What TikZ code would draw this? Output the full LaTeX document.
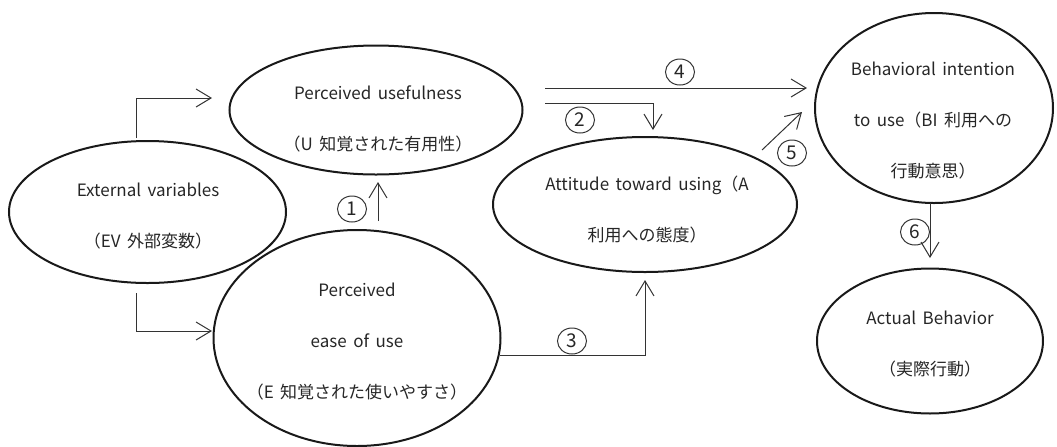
\documentclass[tikz,border=0pt]{standalone}
\usepackage{fontspec}
\setmainfont{Noto Sans CJK JP}[WordSpace=1.7]
\usetikzlibrary{arrows.meta, shapes.geometric}

\begin{document}
\begin{tikzpicture}[x=0.5pt, y=-0.5pt,
  oval/.style={draw, ellipse, line width=1pt, black!90, inner sep=0pt},
  txt/.style={align=center, text=black!85, font=\fontsize{8.5}{25.5}\selectfont},
  arr/.style={-{Straight Barb[length=7.5pt,width=9pt]}, line width=0.5pt, black!80},
  num/.style={draw, ellipse, line width=0.5pt, black!80, text=black!85, minimum width=14.5pt, minimum height=13pt, inner sep=0pt, font=\fontsize{9.5}{10}\selectfont}]
\useasboundingbox (0,0) rectangle (1057,446);
%---------------------------------------------------
\node[oval, minimum width=138.5pt, minimum height=71pt] (ev) at (147.5,212) {};
\node[oval, minimum width=146.5pt, minimum height=64.5pt] (pu) at (376,110) {};
\node[oval, minimum width=143.5pt, minimum height=108pt] (pe) at (357,338) {};
\node[oval, minimum width=152pt, minimum height=67.5pt] (at) at (645,204.5) {};
\node[oval, minimum width=119pt, minimum height=95pt] (bi) at (934,108) {};
\node[oval, minimum width=113pt, minimum height=72.5pt] (ab) at (930,341) {};
%---------------------------------------------------
\node[txt] (evtxt) at (148,216) {External variables\\（EV 外部変数）};
\node[txt] (putxt) at (378,119) {Perceived usefulness\\（U 知覚された有用性）};
\node[txt] (petxt) at (357,342) {Perceived\\ease of use\\（E 知覚された使いやすさ）};
\node[txt] (attxt) at (647,210) {Attitude toward using（A\\利用への態度）};
\node[txt] (bitxt) at (933,121) {Behavioral intention\\to use（BI 利用への\\行動意思）};
\node[txt] (abtxt) at (930,344) {Actual Behavior\\（実際行動）};
%---------------------------------------------------
\coordinate (evu0) at (136,138);
\coordinate (evu1) at (212,98);
\coordinate (eve0) at (136,293);
\coordinate (eve1) at (212,331);
\draw[arr] (evu0) |- (evu1);
\draw[arr] (eve0) |- (eve1);
%---------------------------------------------------
\coordinate (pepu0) at (378,221);
\coordinate (pepu1) at (378,182);
\draw[arr] (pepu0) -- (pepu1);
\node[num] (n1) at (352,209) {1};
%
\coordinate (pubi0) at (545,88);
\coordinate (pubi1) at (807,88);
\draw[arr] (pubi0) -- (pubi1);
\node[num] (n4) at (680,72) {4};
%
\coordinate (puat0) at (545,103);
\coordinate (puat1) at (653,130);
\draw[arr] (puat0) -| (puat1);
\node[num] (n2) at (580,120) {2};
%
\coordinate (atbi0) at (762,150);
\coordinate (atbi1) at (802,112);
\draw[arr] (atbi0) -- (atbi1);
\node[num] (n5) at (792,153) {5};
%
\coordinate (biab0) at (930,203);
\coordinate (biab1) at (930,258);
\draw[arr] (biab0) -- (biab1);
\node[num] (n6) at (915,232) {6};
%
\coordinate (peat0) at (500,355);
\coordinate (peat1) at (645,280);
\draw[arr] (peat0) -| (peat1);
\node[num] (n3) at (572,341) {3};

\end{tikzpicture}
\end{document}
